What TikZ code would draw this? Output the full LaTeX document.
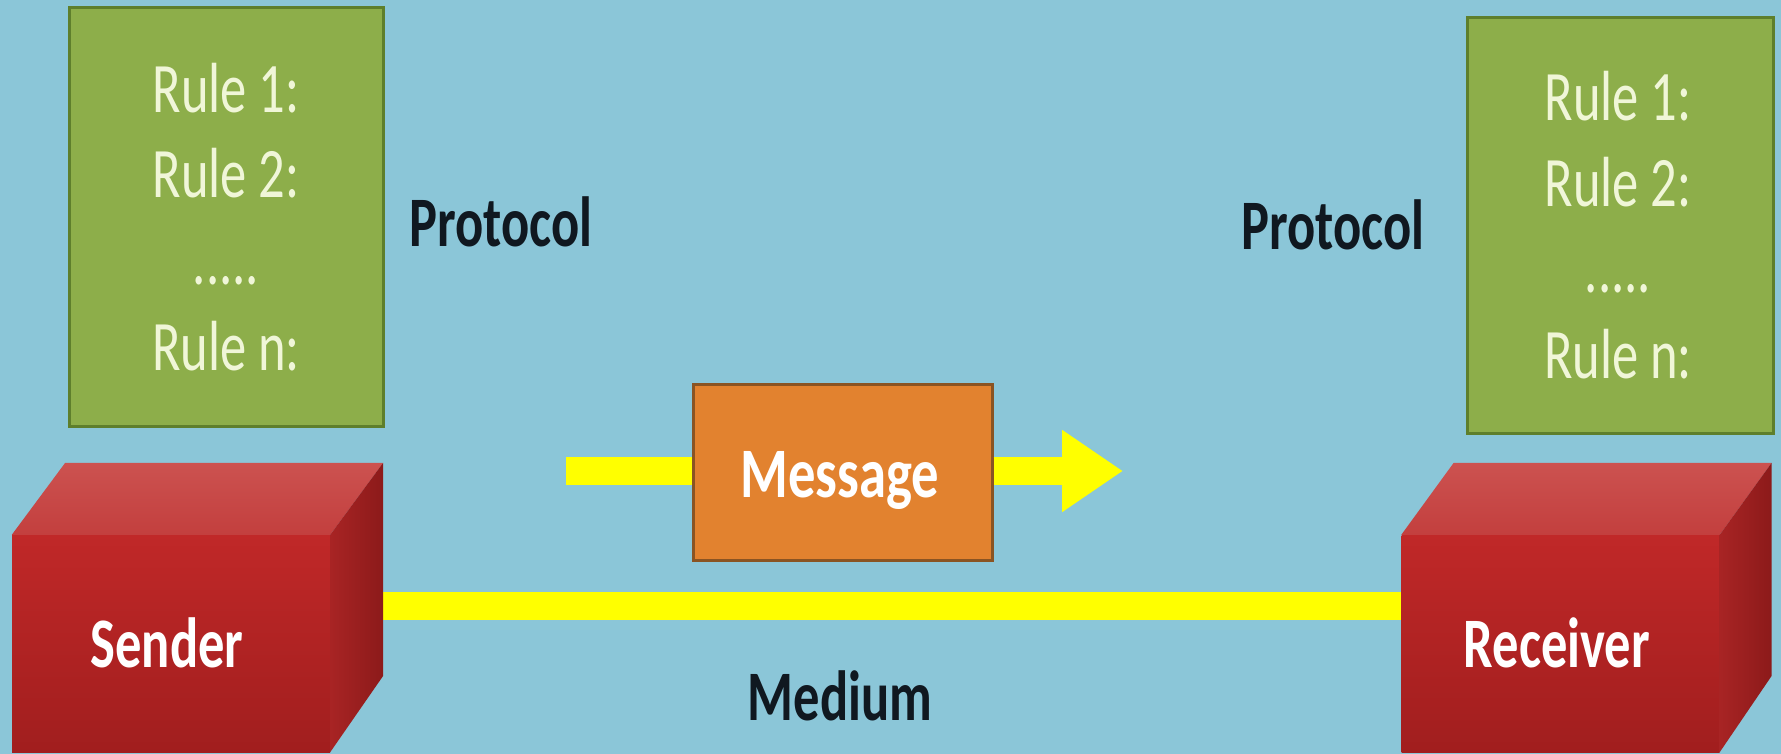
\documentclass[tikz,border=0pt]{standalone}
\usepackage{fontspec}
\setmainfont{Carlito}
\usepackage{graphicx}
\usetikzlibrary{arrows.meta}
\pgfdeclarelayer{back}
\pgfsetlayers{back,main}

\definecolor{sky}{HTML}{8BC6D8}
\definecolor{rulefill}{HTML}{8DAE4A}
\definecolor{ruleedge}{HTML}{5E7F2C}
\definecolor{ruletext}{HTML}{F0F6D8}
\definecolor{msgfill}{HTML}{E2822F}
\definecolor{msgedge}{HTML}{8A5423}
\definecolor{wire}{HTML}{FFFF00}
\definecolor{redfront}{HTML}{C02828}
\definecolor{redfrontlow}{HTML}{A11E1E}
\definecolor{redtop}{HTML}{CC5250}
\definecolor{redtoplow}{HTML}{C33F3E}
\definecolor{redside}{HTML}{A82424}
\definecolor{redsidedark}{HTML}{8C1A1A}
\definecolor{ink}{HTML}{101820}

% condensed lettering used for every label
\newcommand\narrow[1]{\scalebox{0.74}[1]{#1}}

\begin{document}
\begin{tikzpicture}[x=1pt,y=-1pt,
  rulebox/.style={draw=ruleedge, fill=rulefill, line width=3pt, inner sep=0pt},
  ruletxt/.style={anchor=base, text=ruletext, inner sep=0pt,
    font=\fontsize{71}{80}\selectfont},
  darktxt/.style={anchor=base, text=ink, inner sep=0pt,
    font=\fontsize{71}{80}\selectfont\bfseries},
  whitetxt/.style={anchor=base, text=white, inner sep=0pt,
    font=\fontsize{71}{80}\selectfont\bfseries},
  front/.style={top color=redfront, bottom color=redfrontlow, inner sep=0pt,
    minimum width=318pt, minimum height=217pt},
  msgbox/.style={draw=msgedge, fill=msgfill, line width=3pt, inner sep=0pt,
    minimum width=299pt, minimum height=176pt},
  bar/.style={draw=wire, line width=28pt},
  headtip/.style={-{Triangle[length=61pt,width=78pt]}}
]
\useasboundingbox (0,0) rectangle (1781,754);
\begin{pgfonlayer}{back}
  \fill[sky] (0,0) rectangle (1781,754);
\end{pgfonlayer}

% protocol rule sheets
\node[rulebox, minimum width=314pt, minimum height=418pt] (rulesL) at (226,217) {};
\node[rulebox, minimum width=306pt, minimum height=415pt] (rulesR) at (1620,225.5) {};

\node[ruletxt] (l1) at (226,113) {\narrow{Rule 1:}};
\node[ruletxt] (l2) at (226,198) {\narrow{Rule 2:}};
\node[ruletxt] (l3) at (226,284) {\narrow{.....}};
\node[ruletxt] (l4) at (226,370) {\narrow{Rule n:}};

\node[ruletxt] (r1) at (1618,121) {\narrow{Rule 1:}};
\node[ruletxt] (r2) at (1618,207) {\narrow{Rule 2:}};
\node[ruletxt] (r3) at (1618,292) {\narrow{.....}};
\node[ruletxt] (r4) at (1618,378) {\narrow{Rule n:}};

\node[darktxt] (protoL) at (501,247) {\narrow{Protocol}};
\node[darktxt] (protoR) at (1333,250) {\narrow{Protocol}};

% sender and receiver blocks
\node[front] (sender) at (171,643.5) {};
\node[front] (receiver) at (1560.5,643.5) {};

\foreach \b/\d in {sender/53,receiver/52}{
  \shade[top color=redtop, bottom color=redtoplow]
    (\b.north west) -- (\b.north east) -- ++(\d,-72) -- ++(-318,0) -- cycle;
  \shade[left color=redside, right color=redsidedark]
    (\b.north east) -- ++(\d,-72) -- ++(0,213) -- (\b.south east) -- cycle;
}

\node[whitetxt] (sendtxt) at (167,667) {\narrow{Sender}};
\node[whitetxt] (recvtxt) at (1557,667) {\narrow{Receiver}};

% transmission medium
\begin{pgfonlayer}{back}
  \draw[bar] ([yshift=37.5pt]sender.east) -- ([yshift=37.5pt]receiver.west);
\end{pgfonlayer}
\node[darktxt] (medium) at (840,720) {\narrow{Medium}};

% message travelling along the medium
\coordinate (msgtail) at (566,471);
\coordinate (msgtip) at (1123,471);
\node[msgbox] (msg) at (842.5,472) {};
\begin{pgfonlayer}{back}
  \draw[bar] (msgtail) -- (msgtail -| msg.west);
\end{pgfonlayer}
\draw[bar, headtip] (msgtail -| msg.east) -- (msgtip);
\node[whitetxt] (msgtxt) at (840,497) {\scalebox{0.77}[1]{Message}};
\end{tikzpicture}
\end{document}
